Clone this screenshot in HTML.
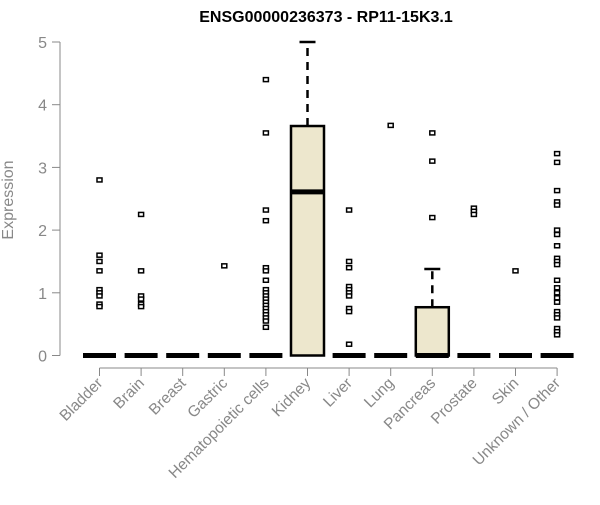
<!DOCTYPE html>
<html><head><meta charset="utf-8"><style>body{margin:0;background:#fff}svg{font-family:"Liberation Sans",Arial,sans-serif}</style></head>
<body>
<svg id="chart" width="600" height="500"></svg>
<script>
const categories=["Bladder","Brain","Breast","Gastric","Hematopoietic cells","Kidney","Liver","Lung","Pancreas","Prostate","Skin","Unknown / Other"];
const q1=[0,0,0,0,0,0,0,0,0,0,0,0];
const medians=[0,0,0,0,0,2.61,0,0,0,0,0,0];
const q3=[0,0,0,0,0,3.66,0,0,0.77,0,0,0];
const whiskerHigh=[0,0,0,0,0,5.0,0,0,1.38,0,0,0];
const outliers=[
[2.8,1.6,1.5,1.35,1.05,1.0,0.95,0.82,0.78],
[2.25,1.35,0.95,0.9,0.82,0.78],
[],
[1.43],
[4.4,3.55,2.32,2.15,1.4,1.35,1.2,1.05,1.0,0.95,0.9,0.85,0.8,0.75,0.7,0.65,0.6,0.55,0.45],
[],
[2.32,1.5,1.4,1.1,1.05,1.0,0.95,0.75,0.7,0.18],
[3.67],
[3.55,3.1,2.2],
[2.35,2.3,2.25],
[1.35],
[3.22,3.08,2.63,2.45,2.4,2.0,1.93,1.75,1.55,1.5,1.45,1.2,1.08,1.0,0.92,0.85,0.7,0.65,0.6,0.43,0.38,0.33]
];
const yTicks=[0,1,2,3,4,5];
const NS="http://www.w3.org/2000/svg";
const svg=document.getElementById('chart');
const xs=i=>99.5+41.6*i;
const ys=v=>355.5-62.7*v;
function mk(t,a,parent){const e=document.createElementNS(NS,t);for(const k in a)e.setAttribute(k,a[k]);(parent||svg).appendChild(e);return e;}
const title=mk('text',{x:326,y:22,'text-anchor':'middle','font-size':16,'font-weight':'bold',fill:'#000'});
title.textContent="ENSG00000236373 - RP11-15K3.1";


const yax=mk('g',{});


mk('line',{x1:60,x2:60,y1:ys(0),y2:ys(5),stroke:'#888'},yax);
yTicks.forEach(t=>{
 mk('line',{x1:52,x2:60,y1:ys(t),y2:ys(t),stroke:'#888'},yax);
 const l=mk('text',{x:47,y:ys(t)+6,'text-anchor':'end','font-size':16,fill:'#888'},yax);
 l.textContent=t;
 
 
});
const yt=mk('text',{x:13,y:200,'text-anchor':'middle','font-size':16,fill:'#888',transform:'rotate(-90 13 200)'});
yt.textContent="Expression";


const xax=mk('g',{});


mk('line',{x1:xs(0),x2:xs(11),y1:368,y2:368,stroke:'#888'},xax);
categories.forEach((c,i)=>{
 const x=xs(i);
 mk('line',{x1:x,x2:x,y1:368,y2:376,stroke:'#888'},xax);
 const l=mk('text',{x:x+4,y:384,'text-anchor':'end','font-size':15.5,fill:'#888',transform:`rotate(-45 ${x+4} 384)`},xax);
 l.textContent=c;
 
 
 const g=mk('g',{});
 
 
 const hw=16.5;
 if(whiskerHigh[i]>q3[i]){
  mk('line',{x1:x,x2:x,y1:ys(q3[i]),y2:ys(whiskerHigh[i]),stroke:'#000','stroke-width':2.5,'stroke-dasharray':'8,6'},g);
  mk('line',{x1:x-8,x2:x+8,y1:ys(whiskerHigh[i]),y2:ys(whiskerHigh[i]),stroke:'#000','stroke-width':2.5},g);
 }
 if(q3[i]>q1[i]){
  mk('rect',{x:x-hw,y:ys(q3[i]),width:2*hw,height:ys(q1[i])-ys(q3[i]),fill:'#ede7cd',stroke:'#000','stroke-width':2.5},g);
 }
 mk('line',{x1:x-hw,x2:x+hw,y1:ys(medians[i]),y2:ys(medians[i]),stroke:'#000','stroke-width':5},g);
 outliers[i].forEach(v=>{
  mk('rect',{x:x-2.5,y:ys(v)-2,width:5,height:4,fill:'#fff',stroke:'#000','stroke-width':1.5},g);
 });
});
</script>
</body></html>
